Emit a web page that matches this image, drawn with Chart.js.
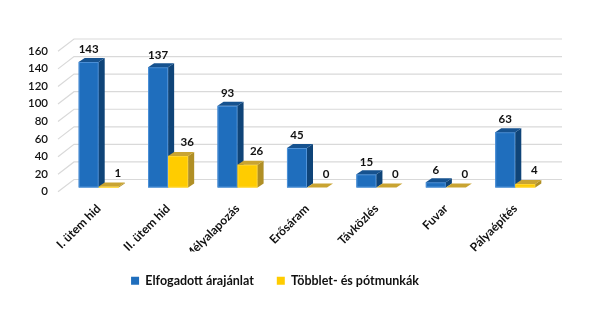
<!DOCTYPE html>
<html>
<head>
<meta charset="utf-8">
<script src="https://cdn.jsdelivr.net/npm/chart.js@4.4.1/dist/chart.umd.min.js"></script>
<style>
  html, body { margin: 0; padding: 0; background: #fff; }
  #wrap { width: 600px; height: 333px; }
</style>
</head>
<body>
<div id="wrap"><canvas id="chart"></canvas></div>
<script>
// data
const categories = ['I. ütem hid', 'II. ütem hid', 'Mélyalapozás', 'Erősáram', 'Távközlés', 'Fuvar', 'Pályaépítés'];
const accepted = [143, 137, 93, 45, 15, 6, 63];
const extra = [1, 36, 26, 0, 0, 0, 4];
const seriesNames = ['Elfogadott árajánlat', 'Többlet- és pótmunkák'];
const yMin = 0, yMax = 160, yStep = 20;

// 3d look
const DX = 6, DY = 4;
const faces = [
  { front: '#1f6ebd', top: '#16528f', side: '#0f4478', edge: '#4f92d8' },
  { front: '#ffcc00', top: '#c9a432', side: '#b08f25', edge: '#ffd633' }
];
const labelShift = [0, 9];

function poly(ctx, pts, fill) {
  ctx.beginPath();
  ctx.moveTo(pts[0][0], pts[0][1]);
  for (let i = 1; i < pts.length; i++) ctx.lineTo(pts[i][0], pts[i][1]);
  ctx.closePath();
  ctx.fillStyle = fill;
  ctx.fill();
}

const bars3d = {
  id: 'bars3d',
  beforeDatasetsDraw(chart) {
    // back wall grid + side diagonals
    const ctx = chart.ctx, y = chart.scales.y, area = chart.chartArea;
    ctx.save();
    ctx.strokeStyle = '#d9d9d9';
    ctx.lineWidth = 1.2;
    for (let v = yMin; v <= yMax; v += yStep) {
      const py = y.getPixelForValue(v);
      ctx.beginPath();
      ctx.moveTo(area.left - 6, py + 4.3);
      ctx.lineTo(area.left + 10, py - 8);
      ctx.lineTo(area.right + 12, py - 8);
      ctx.stroke();
    }
    ctx.restore();
  },
  beforeDatasetDraw() {
    return false;
  },
  afterDatasetsDraw(chart) {
    const ctx = chart.ctx;
    const metas = [chart.getDatasetMeta(0), chart.getDatasetMeta(1)];
    ctx.save();
    for (let i = 0; i < categories.length; i++) {
      metas.forEach((meta, d) => {
        const bar = meta.data[i];
        const f = faces[d];
        const l = bar.x - bar.width / 2, r = bar.x + bar.width / 2;
        const t = Math.min(bar.y, bar.base), b = bar.base;
        if (b - t > 0.5) {
          ctx.fillStyle = f.front;
          ctx.fillRect(l, t, r - l, b - t);
          ctx.strokeStyle = f.edge;
          ctx.lineWidth = 1;
          ctx.strokeRect(l + 0.5, t + 0.5, r - l - 1, b - t - 1);
        }
        poly(ctx, [[r, t], [r + DX, t - DY], [r + DX, b - DY], [r, b]], f.side);
        poly(ctx, [[l, t], [r, t], [r + DX, t - DY], [l + DX, t - DY]], f.top);
      });
    }
    // value labels
    ctx.font = 'bold 11.5px Lato';
    ctx.fillStyle = '#111';
    ctx.textAlign = 'center';
    ctx.textBaseline = 'middle';
    metas.forEach((meta, d) => {
      const vals = d === 0 ? accepted : extra;
      meta.data.forEach((bar, i) => {
        const off = d === 0 ? 12.4 : 13.5;
        ctx.fillText(String(vals[i]), bar.x + labelShift[d], bar.y - off);
      });
    });
    ctx.restore();
  }
};

new Chart(document.getElementById('chart'), {
  type: 'bar',
  data: {
    labels: categories,
    datasets: [
      { label: seriesNames[0], data: accepted, backgroundColor: faces[0].front },
      { label: seriesNames[1], data: extra, backgroundColor: faces[1].front }
    ]
  },
  options: {
    responsive: true,
    maintainAspectRatio: false,
    animation: false,
    categoryPercentage: 0.577,
    barPercentage: 1,
    layout: { padding: { left: 0, right: 50, top: 47, bottom: 36 } },
    plugins: {
      tooltip: { enabled: false },
      legend: {
        position: 'bottom',
        labels: {
          boxWidth: 8,
          boxHeight: 8,
          padding: 23,
          color: '#111',
          font: { family: 'Lato', size: 12.5, weight: 'bold' }
        }
      }
    },
    scales: {
      x: {
        grid: { display: false, drawTicks: false },
        border: { display: false },
        ticks: {
          minRotation: 45,
          maxRotation: 45,
          autoSkip: false,
          padding: 14,
          color: '#111',
          font: { family: 'Lato', size: 12, weight: 'bold' }
        },
        afterFit: s => { s.height = 64; }
      },
      y: {
        min: yMin,
        max: yMax,
        grid: { display: false, drawTicks: false },
        border: { display: false },
        ticks: {
          stepSize: yStep,
          padding: 16,
          labelOffset: 4,
          color: '#111',
          font: { family: 'Lato', size: 11.5, weight: '600' }
        },
        afterFit: s => { s.width = 64; }
      }
    }
  },
  plugins: [bars3d]
});
</script>
</body>
</html>
